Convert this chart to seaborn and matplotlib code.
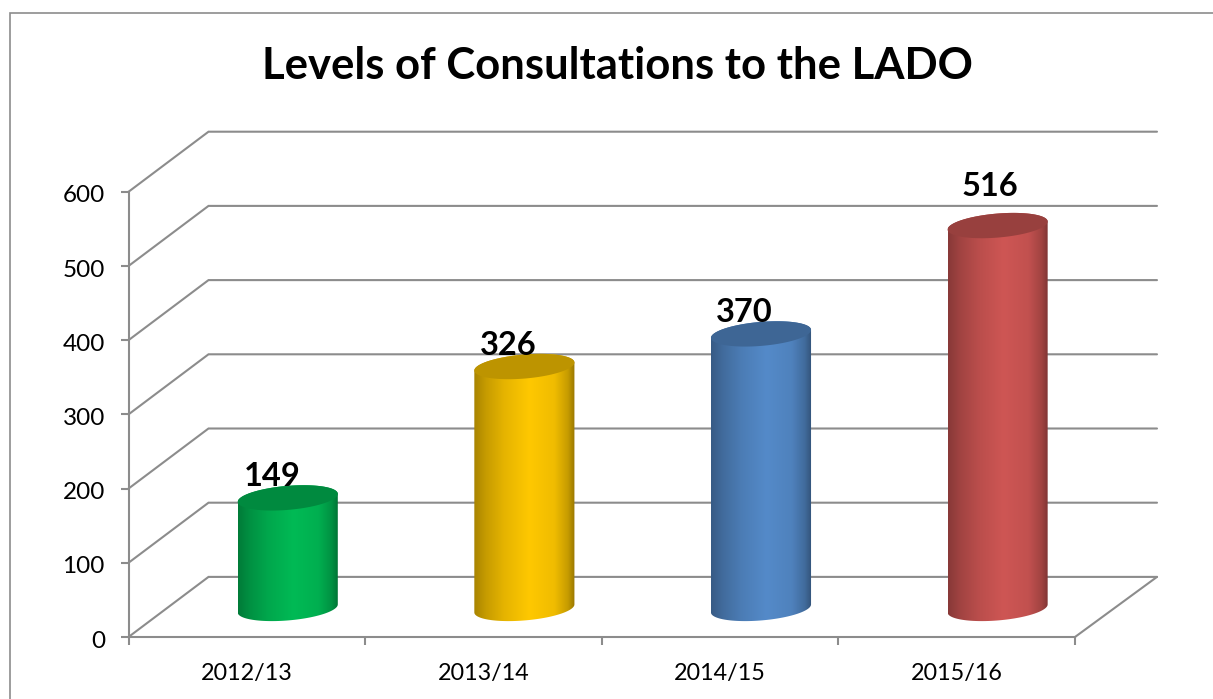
import matplotlib
matplotlib.use("Agg")
import matplotlib.pyplot as plt
from matplotlib.lines import Line2D
from matplotlib.patches import Polygon
from matplotlib.transforms import Affine2D
import numpy as np
import seaborn as sns

years = ["2012/13", "2013/14", "2014/15", "2015/16"]
consultations = [149, 326, 370, 516]
bar_colors = ["#00BA55", "#FFC800", "#548AC9", "#CE5654"]
y_ticks = [0, 100, 200, 300, 400, 500, 600]
title = "Levels of Consultations to the LADO"

W, H = 1213, 699
GREY = "#8C8C8C"
LINE = 1.5

sns.set_theme(style="white")
plt.rcParams["font.family"] = ["Lato", "DejaVu Sans"]

fig = plt.figure(figsize=(W / 100, H / 100), dpi=100, facecolor="white")
# axes covers front wall plus the 3D depth
ax = fig.add_axes([128.5 / W, 1 - 637 / H, (1157 - 128.5) / W, (637 - 131.7) / H])
ax.patch.set_alpha(0)

# outer chart frame, only left and top are inside the image
fig.add_artist(Line2D([10 / W, 10 / W, 1], [0, 1 - 12.5 / H, 1 - 12.5 / H], transform=fig.transFigure,
                      color=GREY, lw=1.2, solid_joinstyle="miter"))

sns.barplot(x=years, y=consultations, hue=years, palette=bar_colors, width=0.423,
            legend=False, saturation=1, ax=ax)

# depth of the 3D box, in data units (left side is a touch shorter in the original)
depth_x = 82 / 236.6
depth_left = 80 / 236.6
depth_y = 81
x_left, x_right = -0.5, 3.5

for tick in y_ticks:
    ax.plot([x_left, x_left + depth_left, x_right + depth_x], [tick, tick + depth_y, tick + depth_y],
            color=GREY, lw=LINE, zorder=1, solid_joinstyle="miter", clip_on=False)
ax.plot([x_right, x_right + depth_x], [0, depth_y], color=GREY, lw=LINE, zorder=1, clip_on=False)

# cylinders sit half way into the box
shift_x = 0.173
shift_y = 38.5
rim_b = 16.2
rim_k = 5.4
shades = np.interp(np.linspace(0, 1, 256), [0, 0.12, 0.3, 0.55, 0.8, 0.93, 1],
                   [0.66, 0.78, 0.9, 1.0, 0.94, 0.78, 0.6])

# nudges of the value labels in pixels, the last one was moved by hand in the original
label_nudge = [(-16, 21), (-16, 21), (-17, 21), (-8, 39)]

t_front = np.linspace(np.pi, 2 * np.pi, 60)
t_back = np.linspace(0, np.pi, 60)
t_all = np.linspace(0, 2 * np.pi, 120)

for i, patch in enumerate(ax.patches):
    base = np.array(patch.get_facecolor()[:3])
    half = patch.get_width() / 2
    cx = patch.get_x() + half + shift_x
    y0 = shift_y
    y1 = shift_y + patch.get_height()
    patch.set_visible(False)

    def rim(t, cy):
        return np.column_stack([cx + half * np.cos(t), cy + rim_b * np.sin(t) + rim_k * np.cos(t)])

    body = Polygon(np.vstack([rim(t_front, y0), rim(t_back, y1)]), closed=True,
                   transform=ax.transData, facecolor="none", edgecolor="none")
    ax.add_patch(body)
    gradient = (shades[:, None] * base)[None, :, :]
    img = ax.imshow(gradient, extent=(cx - half, cx + half, y0 - 30, y1 + 30), aspect="auto",
                    interpolation="bilinear", zorder=3)
    img.set_clip_path(body)
    ax.add_patch(Polygon(rim(t_all, y1), closed=True, facecolor=base * 0.74, edgecolor="none", zorder=4))

    ax.annotate(str(consultations[i]), xy=(cx, y1), xytext=label_nudge[i], textcoords="offset pixels",
                ha="center", va="center", fontsize=23.5, fontweight="bold", color="black", zorder=6)

ax.set_xlim(x_left, x_right + depth_x)
ax.set_ylim(0, 600 + depth_y)

sns.despine(ax=ax, top=True, right=True)
ax.spines["left"].set_bounds(0, 600)
ax.spines["bottom"].set_bounds(x_left, x_right)
for side in ["left", "bottom"]:
    ax.spines[side].set_color(GREY)
    ax.spines[side].set_linewidth(LINE)

ax.set_yticks(y_ticks)
ax.set_xticks(range(len(years)))
ax.set_xticklabels(years)
ax.set_xticks(np.arange(x_left, x_right + 0.5), minor=True)
ax.tick_params(axis="y", length=6, width=LINE, color=GREY, left=True, labelsize=17.5, pad=11, labelcolor="black")
ax.tick_params(axis="x", which="major", length=0, labelsize=16.8, pad=18.5, labelcolor="black")
ax.tick_params(axis="x", which="minor", length=6, width=LINE, color=GREY, bottom=True)
# y labels sit slightly under their ticks
for label in ax.get_yticklabels():
    label.set_transform(label.get_transform() + Affine2D().translate(0, -2))

fig.text(617.5 / W, 1 - 66 / H, title, ha="center", va="center", fontsize=31.4, fontweight="bold", color="black")

fig.savefig("out.png", dpi=100)
